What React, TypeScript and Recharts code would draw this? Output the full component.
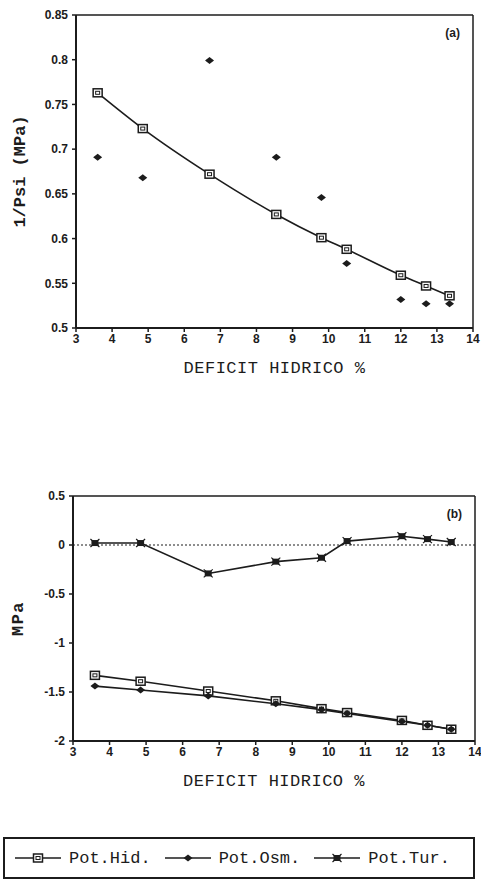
import React from "react";
import {
  ComposedChart,
  LineChart,
  Line,
  Scatter,
  XAxis,
  YAxis,
  ReferenceLine,
  Legend,
} from "recharts";

// water deficit (%) at each sampling
const deficit = [3.6, 4.85, 6.7, 8.55, 9.8, 10.5, 12, 12.7, 13.35];

// (a) inverse of water potential: fitted curve and observed points
const invPsiFit = [0.763, 0.723, 0.672, 0.627, 0.601, 0.588, 0.559, 0.547, 0.536];
const invPsiObs = [0.691, 0.668, 0.799, 0.691, 0.646, 0.572, 0.532, 0.527, 0.527];

// (b) potentials in MPa
const potHid = [-1.33, -1.39, -1.49, -1.59, -1.67, -1.71, -1.79, -1.84, -1.88];
const potOsm = [-1.44, -1.48, -1.54, -1.62, -1.68, -1.72, -1.8, -1.84, -1.88];
const potTur = [0.02, 0.02, -0.29, -0.17, -0.13, 0.04, 0.09, 0.06, 0.03];

const xTicks = [3, 4, 5, 6, 7, 8, 9, 10, 11, 12, 13, 14];
const yTicksA = [0.5, 0.55, 0.6, 0.65, 0.7, 0.75, 0.8, 0.85];
const yTicksB = [-2, -1.5, -1, -0.5, 0, 0.5];

const dataA = deficit.map((x, i) => ({ x, fit: invPsiFit[i], obs: invPsiObs[i] }));
const dataB = deficit.map((x, i) => ({ x, hid: potHid[i], osm: potOsm[i], tur: potTur[i] }));

const INK = "#1c1c1c";
const tickStyle = { fill: INK, fontSize: 12, fontWeight: 700, fontFamily: "'Liberation Sans', Arial, sans-serif" };
const mono = "'Liberation Mono', 'Courier New', monospace";

const SquareDot = ({ cx, cy }: any) => (
  <g>
    <rect x={cx - 4.5} y={cy - 4} width={9} height={8} fill="#fff" stroke={INK} strokeWidth={1.5} />
    <rect x={cx - 2} y={cy - 1.5} width={4} height={3} fill="none" stroke={INK} strokeWidth={1} />
  </g>
);

const DiamondDot = ({ cx, cy }: any) => (
  <polygon points={`${cx - 4.5},${cy} ${cx},${cy - 3.5} ${cx + 4.5},${cy} ${cx},${cy + 3.5}`} fill={INK} />
);

const StarDot = ({ cx, cy }: any) => (
  <g>
    <rect x={cx - 3.5} y={cy - 3} width={7} height={6} fill={INK} />
    <path d={`M${cx - 4.5},${cy - 4} L${cx + 4.5},${cy + 4} M${cx + 4.5},${cy - 4} L${cx - 4.5},${cy + 4}`} stroke={INK} strokeWidth={1.2} />
  </g>
);

const markers: Record<string, (p: any) => React.ReactElement> = {
  hid: SquareDot,
  osm: DiamondDot,
  tur: StarDot,
};

const VerticalLabel = ({ viewBox, value, cx, spacing }: any) => {
  const cy = viewBox.y + viewBox.height / 2;
  return (
    <text
      x={cx}
      y={cy}
      transform={`rotate(-90 ${cx} ${cy})`}
      textAnchor="middle"
      dominantBaseline="central"
      fill={INK}
      fontFamily={mono}
      fontWeight={700}
      fontSize={17}
      letterSpacing={spacing}
    >
      {value}
    </text>
  );
};

const xLabel = (offset: number) => ({
  value: "DEFICIT HIDRICO %",
  position: "insideTop" as const,
  offset,
  fill: INK,
  fontSize: 17,
  fontFamily: mono,
  letterSpacing: 0.5,
});

const renderLegend = ({ payload }: any) => (
  <div
    style={{
      boxSizing: "border-box",
      height: 42,
      border: `2px solid ${INK}`,
      display: "flex",
      alignItems: "center",
      paddingLeft: 10,
      fontFamily: mono,
      fontSize: 17,
      color: INK,
    }}
  >
    {(payload || []).map((entry: any) => {
      const Marker = markers[entry.dataKey];
      return (
        <div key={entry.dataKey} style={{ display: "flex", alignItems: "center", marginRight: 14 }}>
          <svg width={46} height={14}>
            <line x1={0} y1={7} x2={46} y2={7} stroke={INK} strokeWidth={1.6} />
            <Marker cx={23} cy={7} />
          </svg>
          <span style={{ marginLeft: 8 }}>{entry.value}</span>
        </div>
      );
    })}
  </div>
);

export default function App() {
  return (
    <div style={{ position: "absolute", left: 0, top: 0, width: 481, height: 883, background: "#fff" }}>
      <div style={{ position: "absolute", left: 0, top: 0 }}>
        <ComposedChart width={481} height={390} data={dataA} margin={{ top: 15, right: 8, bottom: 0, left: 0 }}>
          <XAxis
            dataKey="x"
            type="number"
            domain={[3, 14]}
            ticks={xTicks}
            interval={0}
            height={62}
            tickSize={4}
            tick={tickStyle}
            axisLine={{ stroke: INK, strokeWidth: 2 }}
            tickLine={{ stroke: INK, strokeWidth: 1.5 }}
            label={xLabel(33)}
          />
          <YAxis
            type="number"
            domain={[0.5, 0.85]}
            ticks={yTicksA}
            interval={0}
            width={76}
            tickSize={4}
            tickMargin={4}
            tick={tickStyle}
            axisLine={{ stroke: INK, strokeWidth: 2 }}
            tickLine={{ stroke: INK, strokeWidth: 1.5 }}
            label={{ content: (p: any) => <VerticalLabel {...p} cx={20} value="1/Psi (MPa)" spacing={0} /> }}
          />
          <ReferenceLine
            y={0.85}
            stroke={INK}
            strokeWidth={1.5}
            label={{ value: "(a)", position: "insideTopRight", offset: 13, fill: INK, fontSize: 12, fontWeight: 700, fontFamily: tickStyle.fontFamily }}
          />
          <ReferenceLine x={14} stroke={INK} strokeWidth={1.5} />
          <Line
            dataKey="fit"
            type="monotone"
            stroke={INK}
            strokeWidth={1.6}
            dot={<SquareDot />}
            isAnimationActive={false}
          />
          <Scatter dataKey="obs" fill={INK} shape={<DiamondDot />} isAnimationActive={false} />
        </ComposedChart>
      </div>

      <div style={{ position: "absolute", left: 0, top: 440 }}>
        <LineChart width={481} height={443} data={dataB} margin={{ top: 56, right: 6, bottom: 4, left: 0 }}>
          <XAxis
            dataKey="x"
            type="number"
            domain={[3, 14]}
            ticks={xTicks}
            interval={0}
            height={96}
            tickSize={4}
            tick={tickStyle}
            axisLine={{ stroke: INK, strokeWidth: 2 }}
            tickLine={{ stroke: INK, strokeWidth: 1.5 }}
            label={xLabel(33)}
          />
          <YAxis
            type="number"
            domain={[-2, 0.5]}
            ticks={yTicksB}
            interval={0}
            width={73}
            tickSize={4}
            tickMargin={4}
            tick={tickStyle}
            axisLine={{ stroke: INK, strokeWidth: 2 }}
            tickLine={{ stroke: INK, strokeWidth: 1.5 }}
            label={{ content: (p: any) => <VerticalLabel {...p} cx={18} value="MPa" spacing={1.5} /> }}
          />
          <ReferenceLine
            y={0.5}
            stroke={INK}
            strokeWidth={1.5}
            label={{ value: "(b)", position: "insideTopRight", offset: 13, fill: INK, fontSize: 12, fontWeight: 700, fontFamily: tickStyle.fontFamily }}
          />
          <ReferenceLine x={14} stroke={INK} strokeWidth={1.5} />
          <ReferenceLine y={0} stroke={INK} strokeWidth={1.2} strokeDasharray="2 2" />
          <Line dataKey="hid" name="Pot.Hid." type="linear" stroke={INK} strokeWidth={1.6} dot={<SquareDot />} isAnimationActive={false} />
          <Line dataKey="osm" name="Pot.Osm." type="linear" stroke={INK} strokeWidth={1.6} dot={<DiamondDot />} isAnimationActive={false} />
          <Line dataKey="tur" name="Pot.Tur." type="linear" stroke={INK} strokeWidth={1.6} dot={<StarDot />} isAnimationActive={false} />
          <Legend verticalAlign="bottom" content={renderLegend} wrapperStyle={{ left: 3, width: 472, bottom: 4 }} />
        </LineChart>
      </div>
    </div>
  );
}
